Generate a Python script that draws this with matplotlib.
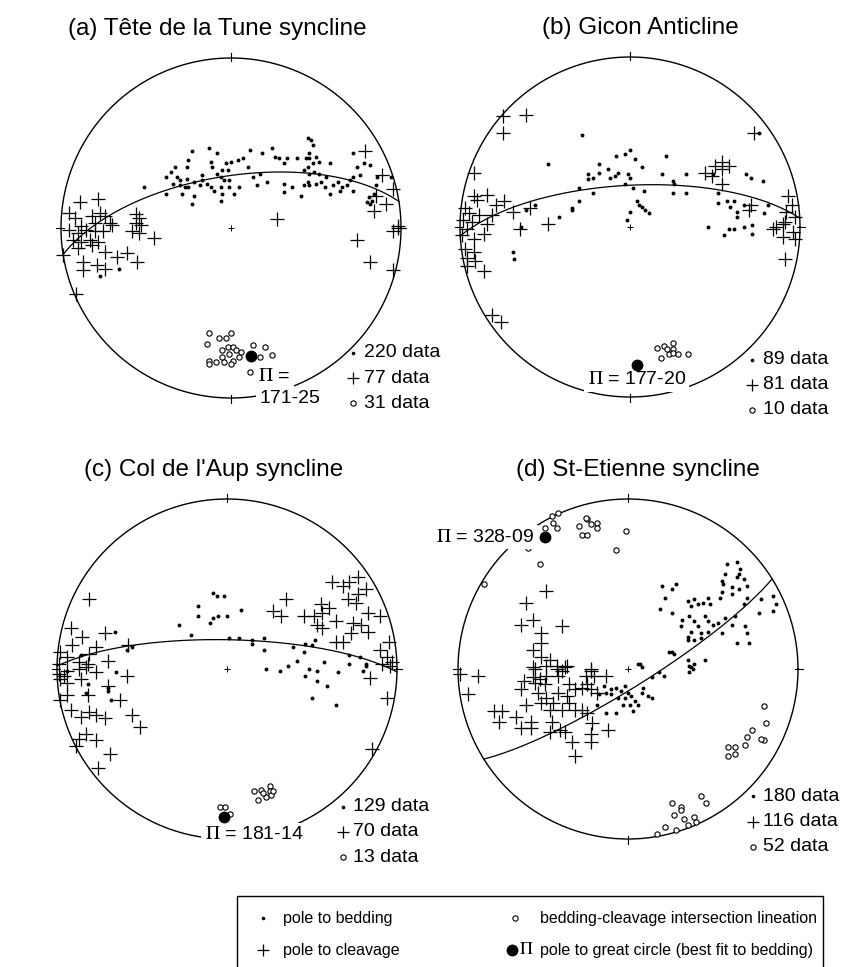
import numpy as np
import matplotlib.pyplot as plt

plt.rcParams['font.family'] = ['Liberation Sans', 'DejaVu Sans']
plt.rcParams['mathtext.fontset'] = 'stix'

# ---- data -------------------------------------------------------------
titles = ["(a) Tête de la Tune syncline", "(b) Gicon Anticline",
          "(c) Col de l'Aup syncline", "(d) St-Etienne syncline"]

# pole to best-fit great circle (trend, plunge)
pi_trend = [171, 177, 181, 328]
pi_plunge = [25, 20, 14, 9]
pi_labels = ["171-25", "177-20", "181-14", "328-09"]

n_bedding = [220, 89, 129, 180]
n_cleavage = [77, 81, 70, 116]
n_lineation = [31, 10, 13, 52]

# equal-area projected positions (east, north) in % of net radius
bed_a = [(-51, 24), (-23, 45), (-13, 47), (-8, 44), (-25, 40), (-26, 36), (-33, 36), (-35, 33),
         (-38, 30), (-32, 30), (-30, 28), (-26, 29), (-22, 27), (-17, 28), (-34, 26), (-30, 25),
         (-27, 24), (-38, 20), (-29, 20), (-18, 25), (-14, 26), (-12, 24), (-10, 22), (-6, 24),
         (-8, 32), (-6, 30), (-4, 28), (-2, 34), (-3, 38), (0, 39), (4, 40), (7, 41), (11, 46),
         (18, 44), (24, 47), (-12, 39), (-11, 36), (-5, 34), (-1, 24), (2, 20), (-5, 20), (-6, 16),
         (-23, 14), (-22, 19), (-17, 31), (-25, 24), (17, 32), (15, 25), (21, 27), (28, 41),
         (33, 41), (31, 38), (45, 53), (47, 52), (48, 49), (44, 41), (46, 41), (50, 42), (48, 38),
         (52, 39), (58, 38), (45, 36), (43, 34), (46, 32), (49, 33), (52, 32), (56, 30), (53, 27),
         (45, 27), (43, 25), (46, 25), (50, 26), (41, 19), (36, 24), (31, 26), (31, 21), (26, 42),
         (39, 41), (46, 44), (60, 25), (63, 27), (65, 24), (68, 25), (70, 28), (72, 30), (76, 31),
         (74, 36), (78, 38), (82, 37), (86, 30), (72, 22), (64, 22), (58, 20), (55, 24), (81, 18),
         (83, 16), (82, 14), (80, 15), (84, 20), (85, 25), (94, 30), (72, 44), (10, 36), (-1, 28),
         (5, 24), (13, 30), (-66, -24), (-77, -28)]
cleav_a = [(79, 45), (89, 31), (95, 23), (85, 19), (91, 14), (84, 10), (98, 1), (27, 5),
           (-89, 15), (-78, 17), (-95, 9), (-92, 6), (-82, 7), (-77, 9), (-74, 7), (-80, 3),
           (-71, 3), (-56, 8), (-54, 6), (-56, 3), (-53, 2), (-88, 1), (-95, -1), (-90, -3),
           (-85, -1), (-80, -2), (-75, -2), (-70, 2), (-93, -7), (-88, -8), (-83, -7), (-78, -8),
           (-90, -12), (-82, -10), (-99, -16), (-74, -14), (-67, -17), (-61, -15), (-55, -20),
           (-87, -20), (-87, -25), (-79, -22), (-74, -24), (-91, -39), (-58, -2), (-54, -3),
           (-45, -6), (74, -7), (95, -2), (98, 0), (82, -20), (95, -25)]
lin_a = [(-13, -62), (-7, -65), (-3, -65), (0, -62), (-14, -68), (-5, -72), (-2, -70), (1, -70),
         (-5, -76), (-1, -74), (6, -73), (5, -76), (1, -78), (-4, -79), (0, -80), (-13, -78),
         (-13, -80), (13, -69), (20, -70), (24, -75), (13, -75), (11, -85), (-9, -79), (3, -72),
         (17, -76)]

bed_b = [(-28, 54), (-48, 37), (0, 45), (-3, 43), (-8, 42), (21, 42), (76, 55), (3, 40), (7, 35),
         (-18, 37), (-13, 34), (-7, 32), (-9, 30), (-12, 29), (-18, 32), (-22, 29), (-25, 28),
         (-25, 31), (-1, 31), (0, 29), (19, 31), (25, 27), (26, 25), (33, 31), (68, 31), (71, 29),
         (78, 27), (-3, 25), (2, 23), (8, 21), (25, 20), (33, 20), (-22, 20), (-30, 23), (-30, 15),
         (-34, 11), (-34, 10), (-42, 6), (-56, 13), (-61, 10), (4, 15), (5, 13), (7, 12), (9, 10),
         (11, 8), (0, 9), (-2, 4), (52, 14), (57, 15), (61, 15), (59, 12), (63, 9), (67, 13),
         (79, 8), (81, 13), (63, 6), (46, 0), (52, 20), (49, 31), (-64, 0), (-69, -15), (-68, -19),
         (55, -5), (58, -1), (61, -1), (67, 0), (72, -4), (72, 1)]
cleav_b = [(-75, 65), (-61, 66), (-75, 55), (-92, 32), (-92, 18), (-90, 16), (-84, 19), (-79, 13),
           (-74, 15), (-97, 11), (-95, 8), (-98, 4), (-93, 3), (-89, 7), (-81, 7), (-69, 9),
           (-59, 11), (-48, 2), (-84, 2), (73, 55), (44, 32), (54, 38), (58, 36), (54, 34),
           (48, 30), (50, 36), (54, 25), (71, 13), (70, 10), (93, 18), (95, 13), (92, 9), (97, 6),
           (91, 3), (86, 0), (-99, -5), (-96, -1), (-92, -7), (-86, -4), (-97, -13), (-92, -15),
           (-96, -18), (-91, -20), (-96, -23), (-86, -26), (-65, -1), (-81, -52), (-76, -56),
           (84, -1), (90, 2), (96, -3), (97, -7), (90, -6), (91, -19)]
lin_b = [(16, -71), (20, -70), (25, -68), (25, -72), (18, -77), (23, -75), (25, -74), (28, -75),
         (34, -75), (22, -72)]

bed_c = [(-8, 45), (-6, 43), (-2, 43), (-17, 37), (-17, 31), (-10, 27), (-8, 30), (-5, 31), (0, 31),
         (8, 35), (-28, 26), (-21, 20), (1, 18), (7, 18), (15, 17), (15, 15), (22, 18), (22, 11),
         (-66, 22), (-56, 13), (-59, 11), (46, 15), (50, 14), (52, 17), (45, 10), (39, 13), (41, 5),
         (57, 4), (72, 8), (78, 7), (82, 3), (36, 2), (23, 0), (31, -1), (48, 0), (53, -1),
         (46, -4), (53, -7), (59, -10), (65, -2), (72, 3), (80, -1), (50, -17), (64, -21), (82, 2),
         (-65, -2), (-70, -11), (-70, -13), (-68, -18), (-82, -9), (-83, -14), (-94, -1), (-86, 8)]
cleav_c = [(-81, 41), (-92, 24), (-85, 19), (-72, 21), (-91, 14), (-77, 13), (-58, 14), (-98, 10),
           (-94, 7), (-87, 4), (-81, 9), (-70, 5), (-82, 3), (-99, 3), (62, 51), (68, 49), (72, 51),
           (77, 54), (82, 47), (35, 41), (27, 34), (32, 31), (45, 31), (51, 31), (55, 38), (60, 36),
           (56, 33), (53, 26), (56, 24), (64, 28), (71, 41), (76, 39), (77, 44), (74, 27), (79, 26),
           (73, 21), (83, 22), (83, 33), (90, 31), (64, 16), (68, 16), (95, 16), (90, 11), (94, 7),
           (97, 4), (91, 3), (-99, -3), (-96, -4), (-94, -1), (-87, 0), (-83, 1), (-77, -2),
           (-94, -8), (-86, -6), (-98, -6), (-98, -18), (-94, -15), (-82, -15), (-92, -24),
           (-86, -28), (-81, -25), (-77, -27), (-72, -29), (-56, -27), (-51, -34), (-63, -18),
           (-70, -10), (-59, -4), (-83, -38), (-87, -41), (-77, -42), (-89, -45), (-69, -50),
           (-76, -58), (84, -5), (94, -17), (85, -47), (96, 2)]
lin_c = [(-4, -81), (-1, -81), (2, -85), (16, -72), (20, -71), (25, -69), (25, -72), (18, -77),
         (23, -75), (26, -74), (27, -72), (21, -73)]

bed_d = [(58, 62), (64, 63), (66, 59), (57, 56), (65, 56), (68, 53), (70, 49), (64, 54), (55, 52),
         (56, 50), (61, 48), (65, 47), (55, 45), (54, 42), (61, 44), (70, 42), (68, 38), (78, 41),
         (85, 43), (87, 38), (77, 33), (85, 34), (20, 49), (26, 47), (28, 50), (22, 42), (19, 35),
         (26, 33), (35, 40), (39, 41), (37, 37), (41, 38), (44, 39), (47, 42), (48, 38), (32, 29),
         (36, 31), (39, 28), (45, 31), (41, 25), (37, 22), (35, 19), (31, 25), (43, 21), (47, 22),
         (50, 26), (47, 28), (35, 17), (39, 17), (43, 18), (53, 27), (57, 30), (63, 31), (55, 21),
         (61, 26), (69, 25), (70, 21), (64, 15), (71, 15), (26, 10), (27, 9), (24, 10), (35, 5),
         (39, 3), (45, 5), (37, 1), (7, 3), (6, 3), (8, 1), (18, -2), (21, -4), (14, -5), (36, 2),
         (36, -2), (38, 0), (-14, -10), (-10, -12), (-13, -14), (-7, -11), (-4, -13), (-2, -10),
         (0, -14), (2, -16), (4, -19), (-2, -17), (-6, -17), (8, -14), (12, -16), (9, -11),
         (14, -17), (-13, -26), (-7, -26), (3, -25), (-10, -15), (-17, -15), (-18, -21), (-3, -21),
         (1, -21), (6, -21)]
cleav_d = [(-48, 46), (-60, 39), (-56, 29), (-63, 26), (-39, 25), (-51, 21), (-51, 15), (-56, 11),
           (-51, 7), (-46, 5), (-42, 2), (-37, 1), (-56, 1), (-22, 0), (-99, -3), (-88, -4),
           (-94, -15), (-79, -25), (-74, -25), (-76, -31), (-66, -28), (-63, -35), (-57, -35),
           (-57, -31), (-60, -21), (-63, -12), (-55, 0), (-56, -5), (-55, -8), (-52, -6), (-48, -4),
           (-49, -9), (-53, -14), (-51, -20), (-48, -17), (-46, -24), (-44, -20), (-48, 2), (-42, 0),
           (-39, -1), (-36, 2), (-41, -4), (-35, -9), (-41, -14), (-36, -16), (-39, -24), (-31, -24),
           (-27, -24), (-24, -26), (-35, -20), (-31, -12), (-27, -11), (-24, -9), (-25, -4),
           (-22, -1), (-20, -4), (-13, -4), (-22, -12), (-18, -14), (-46, -37), (-40, -36),
           (-37, -37), (-33, -43), (-31, -51), (-22, -38), (-22, -43), (-21, -32), (-12, -36),
           (-45, -31), (-61, -7)]
lin_d = [(-41, 92), (-45, 90), (-44, 86), (-42, 83), (-49, 83), (-59, 71), (-52, 62), (-85, 50),
         (-29, 84), (-27, 79), (-24, 79), (-24, 88), (-22, 85), (-18, 86), (-18, 83), (-1, 81),
         (-7, 70), (-25, 89), (80, -22), (81, -32), (73, -36), (70, -40), (80, -42), (69, -45),
         (59, -46), (63, -46), (59, -51), (63, -50), (78, -41), (43, -75), (46, -79), (26, -79),
         (31, -81), (27, -86), (33, -88), (39, -87), (40, -90), (35, -92), (28, -95), (22, -93),
         (17, -97), (31, -83)]

bedding = [bed_a, bed_b, bed_c, bed_d]
cleavage = [cleav_a, cleav_b, cleav_c, cleav_d]
lineation = [lin_a, lin_b, lin_c, lin_d]

# ---- layout -----------------------------------------------------------
W, H = 842, 967
R = 170.0                       # net radius in pixels
centres = [(231, 228), (630, 227), (227, 669), (628, 669)]
half = 1.35

DOT = dict(ls='none', marker='o', ms=2.8, mfc='black', mec='black', mew=0)
CROSS = dict(ls='none', marker='+', ms=9.5, mec='black', mew=0.9)
RING = dict(ls='none', marker='o', ms=3.8, mfc='white', mec='black', mew=0.8)
PI = dict(ls='none', marker='o', ms=7.5, mfc='black', mec='black')

# where the Pi label and data counts sit (net-radius units)
pi_text_pos = [(0.16, -0.875, 'left'), (-0.25, -0.90, 'left'),
               (-0.13, -0.975, 'left'), (-0.55, 0.775, 'right')]
count_pos = [(0.72, -0.735), (0.72, -0.78), (0.68, -0.81), (0.735, -0.75)]


def project(trend, plunge):
    t, p = np.radians(trend), np.radians(plunge)
    e, n, d = np.sin(t) * np.cos(p), np.cos(t) * np.cos(p), np.sin(p)
    return e / np.sqrt(1 + d), n / np.sqrt(1 + d)


def great_circle(trend, plunge):
    t, p = np.radians(trend), np.radians(plunge)
    pole = np.array([np.sin(t) * np.cos(p), np.cos(t) * np.cos(p), np.sin(p)])
    s = np.array([np.cos(t), -np.sin(t), 0.0])
    dv = np.cross(pole, s)
    if dv[2] < 0:
        dv = -dv
    th = np.linspace(0, np.pi, 300)
    v = np.outer(np.cos(th), s) + np.outer(np.sin(th), dv)
    return v[:, 0] / np.sqrt(1 + v[:, 2]), v[:, 1] / np.sqrt(1 + v[:, 2])


fig = plt.figure(figsize=(W / 100, H / 100), dpi=100)

for i in range(4):
    cx, cy = centres[i]
    ax = fig.add_axes([(cx - half * R) / W, (H - cy - half * R) / H, 2 * half * R / W, 2 * half * R / H])
    ax.set_xlim(-half, half)
    ax.set_ylim(-half, half)
    ax.set_aspect('equal')
    ax.axis('off')

    a = np.linspace(0, 2 * np.pi, 400)
    ax.plot(np.cos(a), np.sin(a), color='black', lw=1.0, zorder=2)
    for ang in [0, 90, 180, 270]:
        r = np.radians(ang)
        ax.plot([0.985 * np.sin(r), 1.03 * np.sin(r)], [0.985 * np.cos(r), 1.03 * np.cos(r)],
                color='black', lw=0.8, zorder=2)
    ax.plot(0, 0, ls='none', marker='+', ms=5, mew=0.7, mec='black')

    gx, gy = great_circle(pi_trend[i], pi_plunge[i])
    ax.plot(gx, gy, color='black', lw=0.9, zorder=3)

    b = np.array(bedding[i]) / 100.0
    c = np.array(cleavage[i]) / 100.0
    l = np.array(lineation[i]) / 100.0
    ax.plot(b[:, 0], b[:, 1], zorder=4, **DOT)
    ax.plot(c[:, 0], c[:, 1], zorder=4, **CROSS)
    ax.plot(l[:, 0], l[:, 1], zorder=4, **RING)
    px, py = project(pi_trend[i], pi_plunge[i])
    ax.plot(px, py, zorder=7, **PI)

    tx, ty, ha = pi_text_pos[i]
    box = dict(facecolor='white', edgecolor='none', pad=2.5)
    if i == 0:
        ax.text(tx, ty, r"$\Pi$ =", ha=ha, va='center', fontsize=14, bbox=box, zorder=6)
        ax.text(tx + 0.01, ty - 0.13, pi_labels[i], ha=ha, va='center', fontsize=14, bbox=box, zorder=6)
    else:
        ax.text(tx, ty, r"$\Pi$ = " + pi_labels[i], ha=ha, va='center', fontsize=14, bbox=box, zorder=6)

    mx, my = count_pos[i]
    step = 0.148
    ax.plot(mx, my, ls='none', marker='o', ms=2.6, mfc='black', mec='black', mew=0)
    ax.plot(mx, my - step, ls='none', marker='+', ms=9, mec='black', mew=0.9)
    ax.plot(mx, my - 2 * step, ls='none', marker='o', ms=3.8, mfc='white', mec='black', mew=0.8)
    for k, n in enumerate([n_bedding[i], n_cleavage[i], n_lineation[i]]):
        ax.text(mx + 0.06, my - k * step, f"{n} data", ha='left', va='center', fontsize=14)

    ax.text(-0.08 if i % 2 == 0 else 0.06, 1.135, titles[i], ha='center', va='baseline', fontsize=17.5)

# ---- legend box -------------------------------------------------------
lg = fig.add_axes([0, 0, 1, 1])
lg.set_xlim(0, W)
lg.set_ylim(H, 0)
lg.axis('off')
x0, x1, y0 = 237, 823, 896
lg.plot([x0, x0, x1, x1], [H + 5, y0, y0, H + 5], color='black', lw=1.0)
row1, row2 = 918, 950
lg.plot(263, row1, ls='none', marker='o', ms=2.6, mfc='black', mec='black', mew=0)
lg.plot(263, row2, ls='none', marker='+', ms=9, mec='black', mew=0.9)
lg.plot(515, row1, ls='none', marker='o', ms=3.8, mfc='white', mec='black', mew=0.8)
lg.plot(512, row2, ls='none', marker='o', ms=7.5, mfc='black', mec='black')
lg.text(519, row2, r"$\Pi$", ha='left', va='center', fontsize=13)
lg.text(283, row1, "pole to bedding", ha='left', va='center', fontsize=11.5)
lg.text(283, row2, "pole to cleavage", ha='left', va='center', fontsize=11.5)
lg.text(540, row1, "bedding-cleavage intersection lineation", ha='left', va='center', fontsize=11.5)
lg.text(540, row2, "pole to great circle (best fit to bedding)", ha='left', va='center', fontsize=11.5)

fig.savefig("out.png", dpi=100)
